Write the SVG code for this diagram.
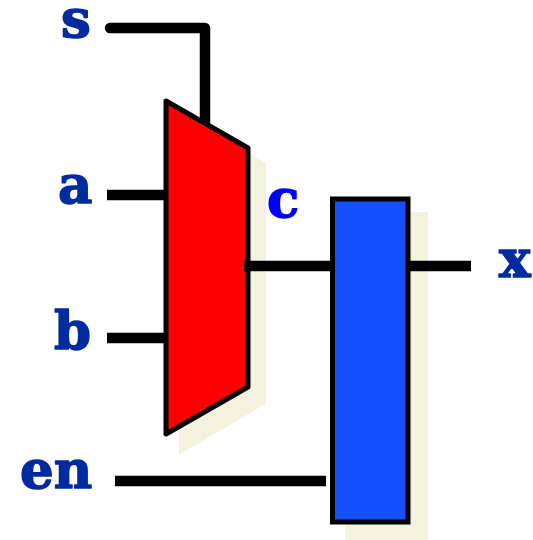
<svg xmlns="http://www.w3.org/2000/svg" width="533" height="540" viewBox="0 0 533 540">
<style>
.lbl{font-family:"DejaVu Serif",serif;font-weight:bold;font-size:53px;fill:#002ba0;stroke:#002ba0;stroke-width:1.5;stroke-linejoin:round}
.wire{fill:none;stroke:#000;stroke-width:10.5;stroke-linejoin:round}
.shadow{fill:#f2f2de;stroke:#f2f2de;stroke-width:2;stroke-linejoin:round}
.box{stroke:#000;stroke-width:5}
</style>
<defs>
<clipPath id="above-mux"><polygon points="90,0 230,0 230,137 166,101 90,101"/></clipPath>
</defs>
<rect width="533" height="540" fill="#fff"/>
<g id="shadows">
<polygon class="shadow" points="180,200 250,155 265,164 265,403 180,453"/>
<rect x="345" y="212" width="83" height="328" fill="#f2f2de"/>
</g>
<g id="mux"><polygon class="box" fill="#ff0000" stroke-linejoin="round" points="166,101 248,148 248,387 166,434"/></g>
<g id="connectors">
<path class="wire" stroke-linecap="round" clip-path="url(#above-mux)" d="M110,28H205V135"/>
<path class="wire" d="M107,195H165"/>
<path class="wire" d="M107,338H165"/>
<path class="wire" d="M244,266H333"/>
<path class="wire" d="M408,266H471"/>
<path class="wire" d="M115,481H326"/>
</g>
<g id="block"><rect class="box" fill="#1450ff" x="332.500" y="199" width="75.500" height="323"/></g>
<g id="label-s"><text class="lbl" x="61" y="37">s</text></g>
<g id="label-a"><text class="lbl" x="58" y="203">a</text></g>
<g id="label-b"><text class="lbl" x="54" y="349">b</text></g>
<g id="label-c"><text class="lbl" x="267" y="217" style="fill:#0000ff;stroke:#0000ff">c</text></g>
<g id="label-x"><text class="lbl" x="499" y="277">x</text></g>
<g id="label-en"><text class="lbl" x="20" y="488">en</text></g>
</svg>
